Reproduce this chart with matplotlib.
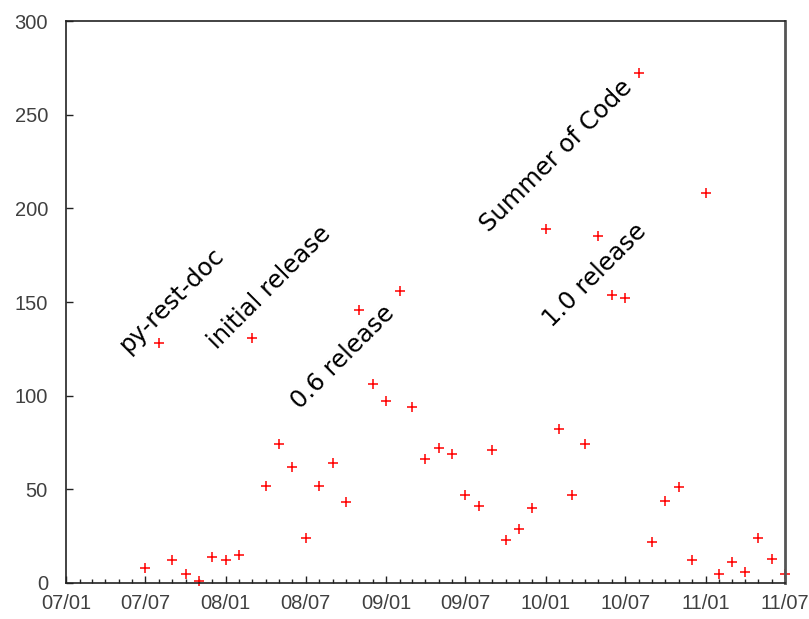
#! /usr/bin/env python3

"""Monthly counts with release annotations, gnuplot-like look."""

import matplotlib
matplotlib.use('Agg')
import matplotlib.pyplot as plt
import matplotlib.dates as mdates
import pandas as pd

# monthly values, first entry is 2007-07
first_month = '2007-07-01'
counts = [8, 128, 12, 5, 1, 14, 12, 15, 131, 52, 74, 62, 24, 52, 64, 43,
          146, 106, 97, 156, 94, 66, 72, 69, 47, 41, 71, 23, 29, 40, 189,
          82, 47, 74, 185, 154, 152, 272, 22, 44, 51, 12, 208, 5, 11, 6,
          24, 13, 5]

# annotation text and where its baseline starts
note_texts = ['py-rest-doc', 'initial release', '0.6 release',
              'Summer of Code', '1.0 release']
note_dates = ['2007-05-23', '2007-12-11', '2008-06-19',
              '2009-08-24', '2010-01-15']
note_values = [122.5, 124.5, 92.5, 187, 136]

x_start, x_end = '2007-01-01', '2011-07-01'


def main():
    fig = plt.figure(figsize=(8.09, 6.19), dpi=100)
    ax = fig.add_axes([0.0816, 0.0582, 0.8887, 0.9078])

    months = pd.date_range(first_month, periods=len(counts), freq='MS')
    ax.plot(months, counts, linestyle='none', marker='+', color='red',
            markersize=7, markeredgewidth=1.1, clip_on=False)

    for text, d, v in zip(note_texts, note_dates, note_values):
        ax.text(pd.Timestamp(d), v, text, rotation=45,
                rotation_mode='anchor', ha='left', va='baseline',
                fontsize=17.5, family='DejaVu Sans', color='black')

    ax.set_xlim(pd.Timestamp(x_start), pd.Timestamp(x_end))
    ax.set_ylim(0, 300)
    ax.set_yticks(range(0, 301, 50))

    ax.xaxis.set_major_locator(mdates.MonthLocator(bymonth=[1, 7]))
    ax.xaxis.set_minor_locator(mdates.MonthLocator())
    ax.xaxis.set_major_formatter(mdates.DateFormatter('%y/%m'))

    for lab in ax.get_xticklabels() + ax.get_yticklabels():
        lab.set_family('Liberation Sans')
    ax.tick_params(axis='both', which='major', direction='in', length=5,
                   width=1, color='#222222', labelsize=14.5,
                   labelcolor='#404040')
    ax.tick_params(axis='x', which='major', pad=8)
    ax.tick_params(axis='y', which='major', pad=13)
    ax.tick_params(axis='x', which='minor', direction='in', length=3,
                   width=1, color='#222222')

    for side in ['left', 'bottom', 'top']:
        ax.spines[side].set_color('#222222')
        ax.spines[side].set_linewidth(1.2)
    ax.spines['right'].set_color('#555555')
    ax.spines['right'].set_linewidth(2)

    fig.savefig('out.png', dpi=100)


if __name__ == "__main__":
    main()
